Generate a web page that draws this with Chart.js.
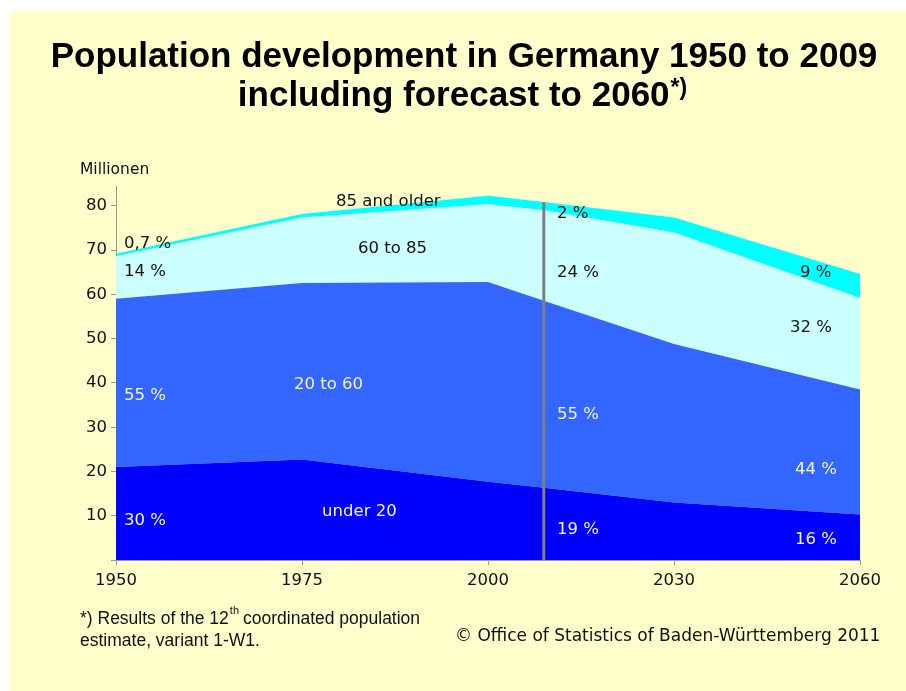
<!DOCTYPE html>
<html>
<head>
<meta charset="utf-8">
<script src="https://cdn.jsdelivr.net/npm/chart.js@4.4.1/dist/chart.umd.min.js"></script>
<style>
html,body{margin:0;padding:0;background:#fff;}
#wrap{width:906px;height:691px;position:relative;}
canvas{display:block;}
</style>
</head>
<body>
<div id="wrap"><canvas id="c" width="906" height="691"></canvas></div>
<script>
// ---- data ----
const tickYears = [1950, 1975, 2000, 2030, 2060];
const years     = [1950, 1975, 2000, 2009, 2030, 2060];
const under20   = [21.0, 22.7, 17.7, 16.3, 13.0, 10.3];
const age20to60 = [38.0, 39.9, 45.1, 42.3, 35.8, 28.2];
const age60to85 = [9.6, 14.8, 17.6, 20.4, 25.2, 20.7];
const age85plus = [0.6, 0.8, 1.9, 1.9, 3.4, 5.4];
const seriesNames = ['under 20', '20 to 60', '60 to 85', '85 and older'];
const forecastStartYear = 2009;

// year -> position on the (equally spaced) category-like axis
function yearPos(y) {
  for (let i = 0; i < tickYears.length - 1; i++) {
    const a = tickYears[i], b = tickYears[i + 1];
    if (y >= a && y <= b) return i + (y - a) / (b - a);
  }
  return tickYears.length - 1;
}
const pts = arr => years.map((yr, i) => ({x: yearPos(yr), y: arr[i]}));

// annotation labels: [text, axisPos, value, colour]
const DARK = '#111', LIGHT = '#f4f4ff';
const labels = [
  ['0,7 %', 0.043, 71.4, DARK], ['14 %', 0.043, 65.1, DARK],
  ['55 %', 0.043, 37.1, LIGHT], ['30 %', 0.043, 8.9, LIGHT],
  ['85 and older', 1.183, 80.9, DARK], ['60 to 85', 1.301, 70.3, DARK],
  ['20 to 60', 0.957, 39.6, LIGHT], ['under 20', 1.108, 10.9, LIGHT],
  ['2 %', 2.371, 78.2, DARK], ['24 %', 2.371, 64.9, DARK],
  ['55 %', 2.371, 32.8, LIGHT], ['19 %', 2.371, 6.8, LIGHT],
  ['9 %', 3.677, 64.9, DARK], ['32 %', 3.624, 52.4, DARK],
  ['44 %', 3.651, 20.4, LIGHT], ['16 %', 3.651, 4.6, LIGHT]
];

const BG = '#ffffcc';
const bgPlugin = {
  id: 'bg',
  beforeDraw(chart) {
    const ctx = chart.ctx;
    ctx.save();
    ctx.fillStyle = '#ffffff';
    ctx.fillRect(0, 0, chart.width, chart.height);
    ctx.fillStyle = BG;
    ctx.fillRect(9, 11, chart.width - 9, chart.height - 11);
    ctx.restore();
  }
};

const overlayPlugin = {
  id: 'overlay',
  afterDatasetsDraw(chart) {
    const ctx = chart.ctx, xs = chart.scales.x, ys = chart.scales.y;
    ctx.save();
    // forecast divider
    const idx = years.indexOf(forecastStartYear);
    const total = under20[idx] + age20to60[idx] + age60to85[idx] + age85plus[idx];
    const xp = xs.getPixelForValue(yearPos(forecastStartYear));
    ctx.strokeStyle = '#808080';
    ctx.lineWidth = 3;
    ctx.beginPath();
    ctx.moveTo(xp, ys.getPixelForValue(0));
    ctx.lineTo(xp, ys.getPixelForValue(total));
    ctx.stroke();
    // labels
    ctx.font = '16.5px "DejaVu Sans"';
    ctx.textAlign = 'left';
    ctx.textBaseline = 'middle';
    labels.forEach(([t, px, v, col]) => {
      ctx.fillStyle = col;
      ctx.fillText(t, xs.getPixelForValue(px), ys.getPixelForValue(v));
    });
    ctx.restore();
  },
  afterDraw(chart) {
    const ctx = chart.ctx;
    ctx.save();
    ctx.fillStyle = '#000';
    ctx.textBaseline = 'alphabetic';
    const TF = 'bold 35px "Liberation Sans"';
    ctx.font = TF;
    ctx.textAlign = 'center';
    ctx.fillText('Population development in Germany 1950 to 2009', 464, 67);
    const l2 = 'including forecast to 2060';
    const sup = '*)';
    const w2 = ctx.measureText(l2).width;
    ctx.font = 'bold 23px "Liberation Sans"';
    const ws = ctx.measureText(sup).width;
    const start = 462 - (w2 + ws) / 2;
    ctx.textAlign = 'left';
    ctx.font = TF;
    ctx.fillText(l2, start, 106);
    ctx.font = 'bold 23px "Liberation Sans"';
    ctx.fillText(sup, start + w2 + 1, 95);

    // axis unit
    ctx.fillStyle = '#111';
    ctx.font = '15.5px "DejaVu Sans"';
    ctx.textBaseline = 'middle';
    ctx.fillText('Millionen', 80, 170);

    // footnote
    ctx.textBaseline = 'alphabetic';
    const FF = '17.5px "Liberation Sans Narrow", "Liberation Sans"';
    ctx.font = FF;
    let x = 80;
    const a = '*) Results of the 12';
    ctx.fillText(a, x, 624);
    x += ctx.measureText(a).width;
    ctx.font = '11px "Liberation Sans Narrow", "Liberation Sans"';
    ctx.fillText('th', x + 1, 614);
    x += ctx.measureText('th').width + 5;
    ctx.font = FF;
    ctx.fillText('coordinated population', x, 624);
    ctx.fillText('estimate, variant 1-W1.', 80, 646);

    ctx.font = '17px "DejaVu Sans"';
    ctx.fillText('\u00A9 Office of Statistics of Baden-W\u00FCrttemberg 2011', 455, 641);
    ctx.restore();
  }
};

const mk = (label, arr, color, fill) => ({
  label, data: pts(arr), backgroundColor: color, borderColor: color,
  borderWidth: 0, pointRadius: 0, tension: 0, fill
});

new Chart(document.getElementById('c'), {
  type: 'line',
  data: {
    datasets: [
      mk(seriesNames[0], under20, '#0000ff', 'origin'),
      mk(seriesNames[1], age20to60, '#3366ff', '-1'),
      mk(seriesNames[2], age60to85, '#ccffff', '-1'),
      mk(seriesNames[3], age85plus, '#00ffff', '-1')
    ]
  },
  options: {
    responsive: false,
    animation: false,
    layout: {padding: {left: 0, right: 46, top: 186, bottom: 0}},
    plugins: {legend: {display: false}, tooltip: {enabled: false}},
    scales: {
      x: {
        type: 'linear', min: 0, max: tickYears.length - 1,
        afterFit(s) { s.height = 131; },
        afterBuildTicks(s) { s.ticks = tickYears.map((_, i) => ({value: i})); },
        ticks: {
          callback: v => tickYears[v], color: '#111',
          font: {family: 'DejaVu Sans', size: 16.5}, padding: 6, maxRotation: 0
        },
        grid: {drawOnChartArea: false, drawTicks: true, tickLength: 5, color: '#999'},
        border: {color: '#999', width: 1}
      },
      y: {
        stacked: true, min: 0, max: 84.5,
        afterFit(s) { s.width = 116; },
        afterBuildTicks(s) { s.ticks = [0,10,20,30,40,50,60,70,80].map(v => ({value: v})); },
        ticks: {
          callback: v => v === 0 ? '' : v, color: '#111',
          font: {family: 'DejaVu Sans', size: 16.5}, padding: 4
        },
        grid: {drawOnChartArea: false, drawTicks: true, tickLength: 5, color: '#999'},
        border: {color: '#999', width: 1}
      }
    }
  },
  plugins: [bgPlugin, overlayPlugin]
});
</script>
</body>
</html>
